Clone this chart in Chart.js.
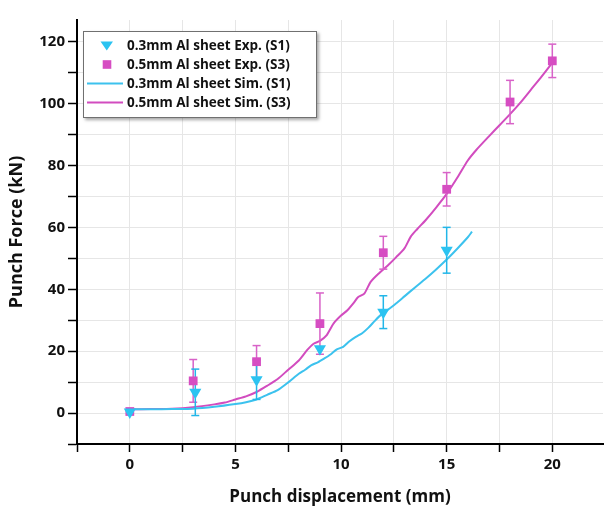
<!DOCTYPE html>
<html>
<head>
<meta charset="utf-8">
<script src="https://cdn.jsdelivr.net/npm/chart.js@4.4.1/dist/chart.umd.min.js"></script>
<style>
  html, body { margin: 0; padding: 0; background: #fff; }
  #wrap { position: relative; width: 610px; height: 507px; }
  #legend {
    position: absolute; left: 83px; top: 31px; width: 234px; height: 87px;
    box-sizing: border-box; border: 1px solid #707070; background: #fff;
    box-shadow: 2px 2px 3px rgba(0,0,0,0.35);
    font: bold 13.5px "Open Sans", sans-serif; color: #111;
  }
  .row { position: absolute; left: 0; width: 100%; height: 19px; line-height: 19px; }
  .row svg { position: absolute; left: 3px; top: 0; }
  .row span { position: absolute; left: 43px; white-space: nowrap; }
</style>
</head>
<body>
<div id="wrap">
  <canvas id="c" width="610" height="507"></canvas>
  <div id="legend">
    <div class="row" style="top:3.5px">
      <svg width="40" height="19"><polygon points="13.5,5.5 26,5.5 19.75,14.5" fill="#2BC3F1"/></svg>
      <span>0.3mm Al sheet Exp. (S1)</span>
    </div>
    <div class="row" style="top:22.5px">
      <svg width="40" height="19"><rect x="15.7" y="5.2" width="8.6" height="8.6" fill="#D64DC2"/></svg>
      <span>0.5mm Al sheet Exp. (S3)</span>
    </div>
    <div class="row" style="top:41.8px">
      <svg width="40" height="19"><line x1="0" y1="9.5" x2="36" y2="9.5" stroke="#3CC2EE" stroke-width="2"/></svg>
      <span>0.3mm Al sheet Sim. (S1)</span>
    </div>
    <div class="row" style="top:61.2px">
      <svg width="40" height="19"><line x1="0" y1="9.5" x2="36" y2="9.5" stroke="#D24CBF" stroke-width="2"/></svg>
      <span>0.5mm Al sheet Sim. (S3)</span>
    </div>
  </div>
</div>
<script>
// experimental points (mean and +/- error), punch force in kN vs displacement in mm
const S1_EXP_X   = [0, 3.1, 6, 9, 12, 15];
const S1_EXP_Y   = [0.3, 6.7, 10.8, 20.8, 32.6, 52.6];
const S1_EXP_ERR = [0, 7.5, 6.4, 0, 5.3, 7.4];

const S3_EXP_X   = [0, 3, 6, 9, 12, 15, 18, 20];
const S3_EXP_Y   = [0.5, 10.4, 16.6, 28.9, 51.8, 72.3, 100.5, 113.8];
const S3_EXP_ERR = [0, 6.9, 5.2, 9.9, 5.3, 5.4, 7.0, 5.4];

// simulated force-displacement curves
const S1_SIM_X = [0, 1, 2, 3, 4, 5, 5.5, 6, 6.5, 7, 7.5, 8, 8.3, 8.6, 8.9, 9.2, 9.5, 9.8, 10.1,
                  10.4, 10.7, 11.0, 11.3, 11.6, 11.9, 12.2, 12.6, 13.0, 13.5, 14.0, 14.5, 15.0,
                  15.5, 16.0, 16.2];
const S1_SIM_Y = [1.2, 1.2, 1.3, 1.4, 2.0, 2.9, 3.5, 4.4, 5.9, 7.4, 9.9, 12.7, 14.0, 15.5, 16.4,
                  17.6, 18.9, 20.6, 21.4, 23.2, 24.6, 25.8, 27.6, 29.8, 31.8, 33.3, 35.4, 37.7,
                  40.6, 43.4, 46.4, 49.6, 53.1, 56.8, 58.6];

const S3_SIM_X = [0, 1, 2, 3, 4, 4.5, 5, 5.5, 6, 6.5, 7, 7.5, 8, 8.4, 8.7, 9.0, 9.3, 9.65, 10.0,
                  10.3, 10.6, 10.8, 11.1, 11.4, 11.8, 12.2, 12.6, 13.0, 13.3, 13.6, 14.0, 14.5,
                  15.0, 15.5, 16.0, 16.4, 17.0, 17.5, 18.0, 18.5, 19.0, 19.5, 20.0];
const S3_SIM_Y = [1.2, 1.3, 1.4, 1.9, 2.8, 3.4, 4.4, 5.4, 6.8, 8.8, 11.0, 14.0, 17.0, 20.4, 22.4,
                  23.3, 25.0, 29.0, 31.5, 33.2, 35.6, 37.4, 38.6, 42.4, 45.2, 47.6, 50.3, 53.2,
                  57.0, 59.4, 62.3, 66.4, 70.8, 76.0, 81.6, 85.0, 89.4, 93.0, 96.6, 100.4, 104.6,
                  108.8, 113.2];

// axis tick positions
const X_TICKS = [-2.5, 0, 2.5, 5, 7.5, 10, 12.5, 15, 17.5, 20];
const Y_TICKS = [-10, 0, 10, 20, 30, 40, 50, 60, 70, 80, 90, 100, 110, 120];

const CYAN = '#2BC3F1', CYAN_LINE = '#3CC2EE', CYAN_BAR = '#22B6E8';
const PINK = '#D64DC2', PINK_LINE = '#D24CBF', PINK_BAR = '#D862C8';
const FONT = 'Open Sans';

function pts(xs, ys) {
  return xs.map((x, i) => ({ x, y: ys[i] }));
}

// each error bar is a two-point segment, separated by a gap
function bars(xs, ys, es) {
  const out = [];
  xs.forEach((x, i) => {
    if (!es[i]) return;
    out.push({ x, y: ys[i] - es[i] }, { x, y: ys[i] + es[i] }, { x, y: null });
  });
  return out;
}

const barStyle = color => ({
  showLine: true, spanGaps: false,
  borderColor: color, borderWidth: 1.5,
  pointStyle: 'line', pointRadius: 4,
  pointBorderColor: color, pointBorderWidth: 1.5
});

new Chart(document.getElementById('c'), {
  type: 'scatter',
  data: {
    datasets: [
      { data: pts(S1_EXP_X, S1_EXP_Y), pointStyle: 'triangle', rotation: 180, pointRadius: 7,
        backgroundColor: CYAN, borderWidth: 0, order: 1 },
      { data: pts(S3_EXP_X, S3_EXP_Y), pointStyle: 'rect', pointRadius: 6.2,
        backgroundColor: PINK, borderWidth: 0, order: 2 },
      Object.assign({ data: bars(S1_EXP_X, S1_EXP_Y, S1_EXP_ERR), order: 3 }, barStyle(CYAN_BAR)),
      Object.assign({ data: bars(S3_EXP_X, S3_EXP_Y, S3_EXP_ERR), order: 4 }, barStyle(PINK_BAR)),
      { data: pts(S1_SIM_X, S1_SIM_Y), showLine: true, pointRadius: 0, borderColor: CYAN_LINE,
        borderWidth: 2, tension: 0.25, order: 5 },
      { data: pts(S3_SIM_X, S3_SIM_Y), showLine: true, pointRadius: 0, borderColor: PINK_LINE,
        borderWidth: 2, tension: 0.25, order: 6 }
    ]
  },
  options: {
    responsive: false,
    animation: false,
    events: [],
    layout: { padding: { top: 20, right: 0, left: 0, bottom: 0 } },
    plugins: { legend: { display: false }, tooltip: { enabled: false } },
    scales: {
      x: {
        type: 'linear', min: -2.5, max: 22.4,
        afterBuildTicks: s => { s.ticks = X_TICKS.map(v => ({ value: v })); },
        afterFit: s => { s.height = 63; },
        ticks: {
          callback: v => (v % 5 === 0 ? v : ''),
          font: { family: FONT, weight: 'bold', size: 15 }, color: '#111',
          padding: 4, maxRotation: 0, autoSkip: false
        },
        grid: { color: '#e6e6e6', tickColor: '#000', tickLength: 8, tickWidth: 1.5 },
        border: { color: '#000', width: 2 },
        title: {
          display: true, text: 'Punch displacement (mm)', color: '#111',
          font: { family: FONT, weight: 'bold', size: 17 }, padding: { top: 0, bottom: 0 }
        }
      },
      y: {
        type: 'linear', min: -10, max: 127,
        afterBuildTicks: s => { s.ticks = Y_TICKS.map(v => ({ value: v })); },
        afterFit: s => { s.width = 77; },
        ticks: {
          callback: v => (v >= 0 && v % 20 === 0 ? v : ''),
          font: { family: FONT, weight: 'bold', size: 15 }, color: '#111',
          padding: 3, autoSkip: false
        },
        grid: { color: '#e6e6e6', tickColor: '#000', tickLength: 9, tickWidth: 1.5 },
        border: { color: '#000', width: 2 },
        title: {
          display: true, text: 'Punch Force (kN)', color: '#111',
          font: { family: FONT, weight: 'bold', size: 18 }, padding: { top: 6, bottom: 6 }
        }
      }
    }
  }
});
</script>
</body>
</html>
